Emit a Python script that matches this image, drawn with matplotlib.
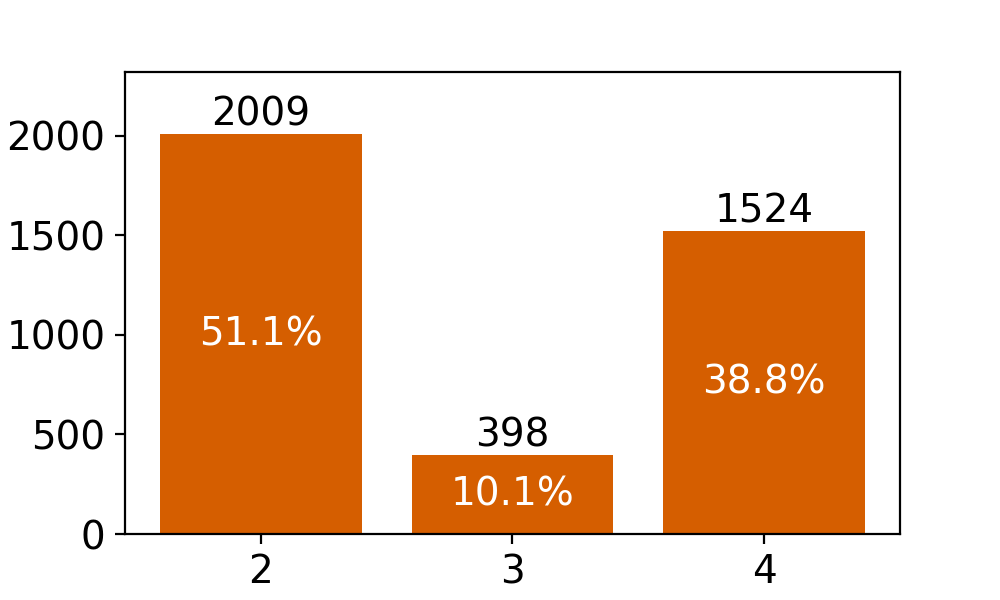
import matplotlib
matplotlib.use('Agg')
import matplotlib.pyplot as plt

categories = ['2', '3', '4']
counts = [2009, 398, 1524]
percents = ['51.1%', '10.1%', '38.8%']


def main():
    plt.rcParams['font.size'] = 14
    fig, ax = plt.subplots(figsize=(5, 3), dpi=200)
    bars = ax.bar(categories, counts, width=0.8, color='#d55e00')
    for bar, n, pct in zip(bars, counts, percents):
        x = bar.get_x() + bar.get_width() / 2
        ax.text(x, n, str(n), ha='center', va='bottom', fontsize=14)
        ax.text(x, n / 2, pct, ha='center', va='center', color='white', fontsize=14)
    ax.set_ylim(0, max(counts) * 1.155)
    fig.subplots_adjust(left=0.125, right=0.9, bottom=0.11, top=0.88)
    fig.savefig('out.png', dpi=200)


if __name__ == '__main__':
    main()
